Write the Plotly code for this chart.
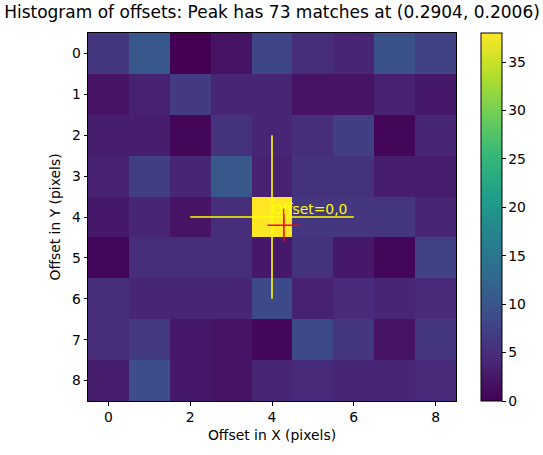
import plotly.graph_objects as go

x_bins = list(range(9))
y_bins = list(range(9))
counts = [
    [6, 10.5, 0, 2, 8, 5, 4, 9.5, 7.5],
    [2, 3.5, 6.5, 4, 4, 2, 2, 3.5, 2.5],
    [3, 3, 0.5, 5.5, 4, 5, 7, 0.5, 4],
    [3.5, 7, 4, 10.5, 3.5, 5.5, 5.5, 3, 3],
    [2.5, 4, 2, 5, 38, 6, 6, 6, 4],
    [0.5, 5, 5, 5, 2.5, 5.5, 2.5, 0.5, 7.5],
    [5, 4, 4, 4, 8.5, 3.5, 4.5, 4, 4.5],
    [5, 6.5, 2.5, 2, 0.5, 8.5, 6, 2, 6],
    [3, 9, 2.5, 2, 4, 4.5, 4, 4, 4.5],
]
center = [4, 4]
guide_half = 2
peak_offset = [0.2904, 0.2006]
cross_half = 0.4
peak_matches = 73
label_text = "Offset=0,0"
cbar_ticks = [0, 5, 10, 15, 20, 25, 30, 35]

FONT = "DejaVu Sans"
W, H = 543, 455
fig = go.Figure()
fig.add_trace(go.Heatmap(
    z=counts, x=x_bins, y=y_bins, colorscale="Viridis", zmin=0, zmax=38,
    colorbar=dict(x=(482 - 87.5) / 369, xanchor="left",
                  y=0.5, yanchor="middle", len=1, lenmode="fraction",
                  thickness=21, outlinecolor="black", outlinewidth=1, ticks="outside",
                  ticklen=3.5, tickcolor="black", tickvals=cbar_ticks, xpad=0, ypad=0,
                  tickfont=dict(family=FONT, size=13.9, color="black")),
))
cx, cy = center
fig.add_trace(go.Scatter(x=[cx - guide_half, cx + guide_half], y=[cy, cy], mode="lines",
                         line=dict(color="yellow", width=1.6), showlegend=False, hoverinfo="skip"))
fig.add_trace(go.Scatter(x=[cx, cx], y=[cy - guide_half, cy + guide_half], mode="lines",
                         line=dict(color="yellow", width=1.6), showlegend=False, hoverinfo="skip"))
px, py = cx + peak_offset[0], cy + peak_offset[1]
fig.add_trace(go.Scatter(x=[px - cross_half, px + cross_half], y=[py, py], mode="lines",
                         line=dict(color="red", width=1.6), showlegend=False, hoverinfo="skip"))
fig.add_trace(go.Scatter(x=[px, px], y=[py - cross_half, py + cross_half], mode="lines",
                         line=dict(color="red", width=1.6), showlegend=False, hoverinfo="skip"))
fig.add_annotation(x=cx, y=cy, text=label_text, showarrow=False, xanchor="left", yanchor="bottom",
                   yshift=-2, xshift=-2, font=dict(family=FONT, size=13.9, color="yellow"))

axis_common = dict(showgrid=False, zeroline=False, showline=True, linecolor="black", linewidth=1,
                   mirror=True, ticks="outside", ticklen=3.5, tickcolor="black",
                   tickfont=dict(family=FONT, size=13.9, color="black"))
fig.update_xaxes(range=[-0.5, 8.5], tickvals=[0, 2, 4, 6, 8], **axis_common,
                 title=dict(text="Offset in X (pixels)", font=dict(family=FONT, size=13.9, color="black"), standoff=6))
fig.update_yaxes(range=[8.5, -0.5], tickvals=list(range(9)), **axis_common,
                 title=dict(text="Offset in Y (pixels)", font=dict(family=FONT, size=13.9, color="black"), standoff=8))
fig.update_layout(
    width=W, height=H, margin=dict(l=87.5, r=86.5, t=32.5, b=53.5, autoexpand=False),
    plot_bgcolor="white", paper_bgcolor="white",
    title=dict(text=f"Histogram of offsets: Peak has {peak_matches} matches at ({peak_offset[0]:.4f}, {peak_offset[1]:.4f})",
               x=0.5, xref="paper", xanchor="center", y=1 - 12/455, yanchor="middle",
               font=dict(family=FONT, size=17, color="black")),
    showlegend=False,
)
fig.write_html("out.html")
